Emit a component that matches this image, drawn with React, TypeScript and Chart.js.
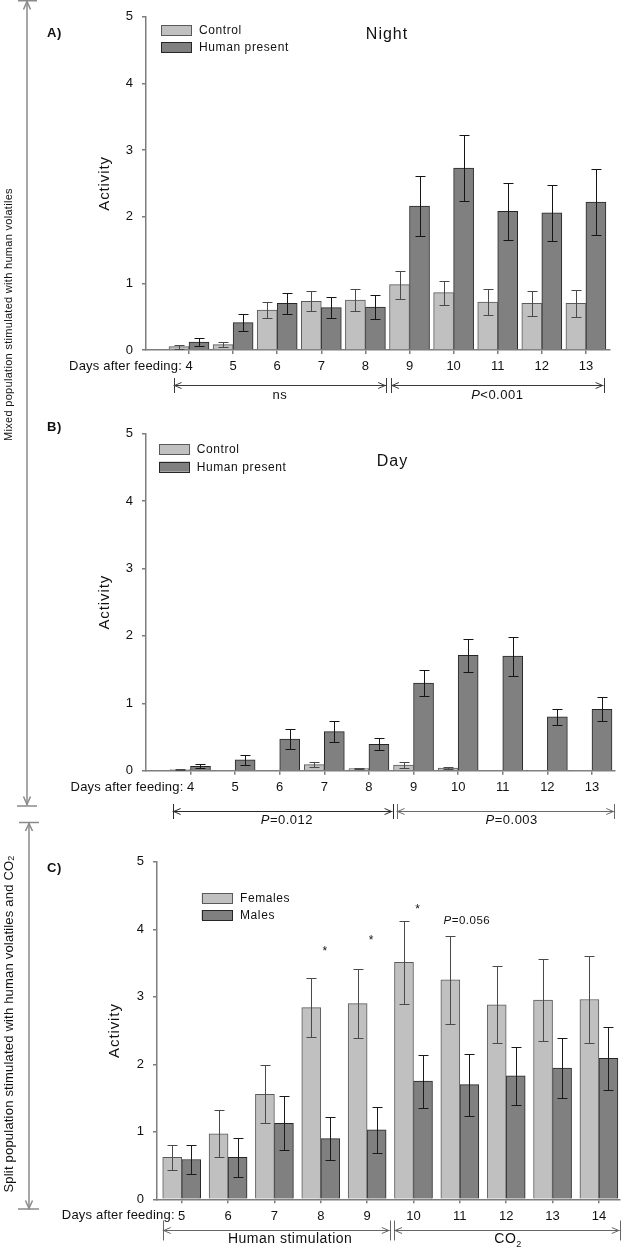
import React, { useEffect, useRef } from 'react';
import { Chart, registerables } from 'chart.js';

Chart.register(...registerables);

const FONT = "'Liberation Sans', Arial, Helvetica, sans-serif";
Chart.defaults.font.family = FONT;

const AXIS = '#7d7d7d';
const LIGHT = '#c0c0c0';
const DARK = '#808080';
const LIGHT_EDGE = '#5a5a5a';
const DARK_EDGE = '#262626';

// ---------- data ----------
const daysAB = [4, 5, 6, 7, 8, 9, 10, 11, 12, 13];
const daysC = [5, 6, 7, 8, 9, 10, 11, 12, 13, 14];
const yTicks = [0, 1, 2, 3, 4, 5];

const legendAB = ['Control', 'Human present'];
const legendC = ['Females', 'Males'];

// A) Night
const nightControl = [0.05, 0.08, 0.6, 0.73, 0.75, 0.98, 0.86, 0.72, 0.7, 0.7];
const nightControlErr = [0.03, 0.04, 0.12, 0.15, 0.17, 0.21, 0.18, 0.19, 0.19, 0.2];
const nightHuman = [0.12, 0.41, 0.7, 0.635, 0.645, 2.16, 2.73, 2.08, 2.06, 2.22];
const nightHumanErr = [0.06, 0.13, 0.16, 0.155, 0.175, 0.45, 0.49, 0.43, 0.42, 0.5];

// B) Day
const dayControl = [0.015, 0.008, 0, 0.09, 0.03, 0.085, 0.04, 0, 0.008, 0.008];
const dayControlErr = [0.006, 0, 0, 0.04, 0.012, 0.04, 0.018, 0, 0, 0];
const dayHuman = [0.065, 0.16, 0.47, 0.58, 0.39, 1.3, 1.71, 1.7, 0.8, 0.91];
const dayHumanErr = [0.03, 0.07, 0.145, 0.16, 0.09, 0.19, 0.245, 0.29, 0.12, 0.18];

// C) Females / Males
const females = [0.62, 0.97, 1.555, 2.84, 2.9, 3.51, 3.25, 2.88, 2.95, 2.96];
const femalesErr = [0.19, 0.35, 0.43, 0.44, 0.515, 0.62, 0.65, 0.57, 0.61, 0.64];
const males = [0.59, 0.62, 1.125, 0.9, 1.03, 1.75, 1.7, 1.83, 1.945, 2.09];
const malesErr = [0.22, 0.29, 0.4, 0.32, 0.34, 0.39, 0.46, 0.43, 0.45, 0.47];

const starDays = [8, 9, 10];
const starY = [3.71, 3.87, 4.33];
const pNoteDay = 11;
const pNoteY = 4.13;
const pNoteText = 'P=0.056';

// ---------- types ----------
type Series = { label: string; values: number[]; errors: number[]; fill: string; edge: string; errColor: string };
type Arrow = { from: number; to: number; label: string; at: number; color: string };
type Panel = {
  top: number; height: number; left: number; right: number; areaTop: number; areaBottom: number;
  xMin: number; xMax: number; days: number[]; barW: number; series: Series[];
  tag: string; tagX: number; tagY: number;
  title?: string; titleX?: number; titleY?: number;
  legendX: number; legendY: number; legendTextX: number; legendGap: number;
  activityX: number;
  arrowY: number; half: number; textDy: number; arrowFont: number; arrows: Arrow[];
  extra?: boolean;
};

const panelA: Panel = {
  top: 0, height: 410, left: 146, right: 610, areaTop: 11.5, areaBottom: 350,
  xMin: 3.025, xMax: 13.546, days: daysAB, barW: 20,
  series: [
    { label: legendAB[0], values: nightControl, errors: nightControlErr, fill: LIGHT, edge: LIGHT_EDGE, errColor: '#4a4a4a' },
    { label: legendAB[1], values: nightHuman, errors: nightHumanErr, fill: DARK, edge: DARK_EDGE, errColor: '#151515' },
  ],
  tag: 'A)', tagX: 47, tagY: 33,
  title: 'Night', titleX: 387, titleY: 35,
  legendX: 161, legendY: 25, legendTextX: 199, legendGap: 17,
  activityX: 105,
  arrowY: 385, half: 7.5, textDy: 10, arrowFont: 13,
  arrows: [
    { from: 3.65, to: 8.47, label: 'ns', at: 6.06, color: '#3a3a3a' },
    { from: 8.58, to: 13.4, label: 'P<0.001', at: 10.99, color: '#3a3a3a' },
  ],
};

const panelB: Panel = {
  top: 415, height: 418, left: 146, right: 615, areaTop: 18.7, areaBottom: 355.7,
  xMin: 3.0025, xMax: 13.516, days: daysAB, barW: 20,
  series: [
    { label: legendAB[0], values: dayControl, errors: dayControlErr, fill: LIGHT, edge: LIGHT_EDGE, errColor: '#4a4a4a' },
    { label: legendAB[1], values: dayHuman, errors: dayHumanErr, fill: DARK, edge: DARK_EDGE, errColor: '#151515' },
  ],
  tag: 'B)', tagX: 47, tagY: 12,
  title: 'Day', titleX: 392.5, titleY: 46.7,
  legendX: 159, legendY: 29.3, legendTextX: 196.7, legendGap: 17.4,
  activityX: 105,
  arrowY: 396, half: 7.5, textDy: 9, arrowFont: 13,
  arrows: [
    { from: 3.6, to: 8.53, label: 'P=0.012', at: 6.16, color: '#2a2a2a' },
    { from: 8.62, to: 13.5, label: 'P=0.003', at: 11.2, color: '#6a6a6a' },
  ],
};

const panelC: Panel = {
  top: 833, height: 415, left: 157, right: 620, areaTop: 28.8, areaBottom: 366.3,
  xMin: 4.467, xMax: 14.455, days: daysC, barW: 19,
  series: [
    { label: legendC[0], values: females, errors: femalesErr, fill: LIGHT, edge: LIGHT_EDGE, errColor: '#4a4a4a' },
    { label: legendC[1], values: males, errors: malesErr, fill: DARK, edge: DARK_EDGE, errColor: '#1a1a1a' },
  ],
  tag: 'C)', tagX: 47, tagY: 35,
  legendX: 201.7, legendY: 60, legendTextX: 240, legendGap: 17,
  activityX: 115,
  arrowY: 397, half: 10, textDy: 9.5, arrowFont: 14,
  arrows: [
    { from: 4.59, to: 9.49, label: 'Human stimulation', at: 7.34, color: '#666666' },
    { from: 9.58, to: 14.45, label: 'CO2', at: 12.04, color: '#666666' },
  ],
  extra: true,
};

// ---------- drawing helpers ----------
function setSpacing(ctx: any, s: string) {
  if ('letterSpacing' in ctx) ctx.letterSpacing = s;
}

function text(ctx: CanvasRenderingContext2D, s: string, x: number, y: number, font: string,
  align: CanvasTextAlign = 'left', color = '#111', spacing = '0px') {
  ctx.save();
  ctx.font = font;
  ctx.fillStyle = color;
  ctx.textAlign = align;
  ctx.textBaseline = 'middle';
  setSpacing(ctx, spacing);
  ctx.fillText(s, x, y);
  ctx.restore();
}

function richLabel(ctx: CanvasRenderingContext2D, s: string, cx: number, y: number, size: number) {
  ctx.save();
  ctx.fillStyle = '#111';
  ctx.textBaseline = 'middle';
  ctx.textAlign = 'left';
  setSpacing(ctx, '0.5px');
  const normal = `${size}px ${FONT}`;
  if (s.startsWith('P') && (s[1] === '<' || s[1] === '=')) {
    const italic = `italic ${size}px ${FONT}`;
    ctx.font = italic;
    const w1 = ctx.measureText('P').width;
    ctx.font = normal;
    const rest = s.slice(1);
    const w2 = ctx.measureText(rest).width;
    const x0 = cx - (w1 + w2) / 2;
    ctx.font = italic;
    ctx.fillText('P', x0, y);
    ctx.font = normal;
    ctx.fillText(rest, x0 + w1, y);
  } else if (s === 'CO2') {
    ctx.font = normal;
    const w1 = ctx.measureText('CO').width;
    const sub = `${Math.round(size * 0.65)}px ${FONT}`;
    ctx.font = sub;
    const w2 = ctx.measureText('2').width;
    const x0 = cx - (w1 + w2) / 2;
    ctx.font = normal;
    ctx.fillText('CO', x0, y);
    ctx.font = sub;
    ctx.fillText('2', x0 + w1, y + size * 0.35);
  } else {
    ctx.font = normal;
    ctx.textAlign = 'center';
    ctx.fillText(s, cx, y);
  }
  ctx.restore();
}

function drawArrow(ctx: CanvasRenderingContext2D, x1: number, x2: number, y: number, half: number, color: string) {
  const yy = Math.round(y) + 0.5;
  ctx.save();
  ctx.strokeStyle = color;
  ctx.lineWidth = 1;
  ctx.beginPath();
  ctx.moveTo(x1, yy); ctx.lineTo(x2, yy);
  ctx.moveTo(x1 + 8, yy - 3); ctx.lineTo(x1 + 1, yy); ctx.lineTo(x1 + 8, yy + 3);
  ctx.moveTo(x2 - 8, yy - 3); ctx.lineTo(x2 - 1, yy); ctx.lineTo(x2 - 8, yy + 3);
  ctx.moveTo(Math.round(x1) + 0.5, yy - half); ctx.lineTo(Math.round(x1) + 0.5, yy + half);
  ctx.moveTo(Math.round(x2) + 0.5, yy - half); ctx.lineTo(Math.round(x2) + 0.5, yy + half);
  ctx.stroke();
  ctx.restore();
}

function makePlugin(p: Panel) {
  return {
    id: 'panelDecor',
    afterDatasetsDraw(chart: any) {
      const ctx: CanvasRenderingContext2D = chart.ctx;
      const ys = chart.scales.y;
      p.series.forEach((s, di) => {
        const meta = chart.getDatasetMeta(di);
        meta.data.forEach((bar: any, i: number) => {
          const v = s.values[i];
          const e = s.errors[i];
          if (!e) return;
          const x = Math.round(bar.x) + 0.5;
          const t = Math.round(ys.getPixelForValue(v + e)) + 0.5;
          const lowV = v - e;
          const b = Math.round(ys.getPixelForValue(Math.max(0, lowV))) + 0.5;
          ctx.save();
          ctx.strokeStyle = s.errColor;
          ctx.lineWidth = 1;
          ctx.beginPath();
          ctx.moveTo(x, t); ctx.lineTo(x, b);
          ctx.moveTo(x - 5, t); ctx.lineTo(x + 5, t);
          if (lowV > 0) { ctx.moveTo(x - 5, b); ctx.lineTo(x + 5, b); }
          ctx.stroke();
          ctx.restore();
        });
      });
    },
    afterDraw(chart: any) {
      const ctx: CanvasRenderingContext2D = chart.ctx;
      const xs = chart.scales.x;
      const ys = chart.scales.y;
      const area = chart.chartArea;

      text(ctx, p.tag, p.tagX, p.tagY, `bold 13px ${FONT}`, 'left', '#111', '0.5px');
      if (p.title) text(ctx, p.title, p.titleX!, p.titleY!, `16px ${FONT}`, 'center', '#111', '1px');
      p.series.forEach((s, i) => {
        const y = p.legendY + i * p.legendGap;
        ctx.save();
        ctx.fillStyle = s.fill;
        ctx.strokeStyle = s.edge;
        ctx.lineWidth = 1;
        ctx.fillRect(p.legendX, y, 31, 10);
        ctx.strokeRect(Math.round(p.legendX) + 0.5, Math.round(y) + 0.5, 30, 10);
        ctx.restore();
        text(ctx, s.label, p.legendTextX, y + 5.5, `12px ${FONT}`, 'left', '#111', '0.6px');
      });
      ctx.save();
      ctx.translate(p.activityX, (area.top + area.bottom) / 2);
      ctx.rotate(-Math.PI / 2);
      text(ctx, 'Activity', 0, 0, `15px ${FONT}`, 'center', '#111', '0.9px');
      ctx.restore();
      text(ctx, 'Days after feeding:', xs.getPixelForValue(p.days[0]) - 7, area.bottom + 16.5,
        `13px ${FONT}`, 'right', '#111', '0.2px');
      p.arrows.forEach((a) => {
        drawArrow(ctx, xs.getPixelForValue(a.from), xs.getPixelForValue(a.to), p.arrowY, p.half, a.color);
        richLabel(ctx, a.label, xs.getPixelForValue(a.at), p.arrowY + p.textDy, p.arrowFont);
      });
      if (p.extra) {
        starDays.forEach((d, i) => {
          text(ctx, '*', xs.getPixelForValue(d) + 4, ys.getPixelForValue(starY[i]) + 3, `12px ${FONT}`, 'center');
        });
        richLabel(ctx, pNoteText, xs.getPixelForValue(pNoteDay) + 7, ys.getPixelForValue(pNoteY), 11.5);
      }
    },
  };
}

function buildConfig(p: Panel): any {
  return {
    type: 'bar',
    data: {
      datasets: p.series.map((s) => ({
        label: s.label,
        data: p.days.map((d, i) => ({ x: d, y: s.values[i] })),
        backgroundColor: s.fill,
        borderColor: s.edge,
        borderWidth: 1,
        barThickness: p.barW,
      })),
    },
    options: {
      animation: false,
      responsive: false,
      maintainAspectRatio: false,
      layout: { padding: { left: 0, top: p.areaTop, right: 630 - p.right, bottom: 0 } },
      plugins: { legend: { display: false }, tooltip: { enabled: false }, title: { display: false } },
      scales: {
        x: {
          type: 'linear',
          min: p.xMin,
          max: p.xMax,
          offset: false,
          afterBuildTicks: (s: any) => { s.ticks = p.days.map((v) => ({ value: v })); },
          afterFit: (s: any) => { s.height = p.height - p.areaBottom; },
          ticks: {
            autoSkip: false, maxRotation: 0, minRotation: 0, padding: 5, color: '#111',
            font: { family: FONT, size: 13 },
            callback: (v: any) => String(v),
          },
          grid: { offset: false, drawOnChartArea: false, drawTicks: true, tickLength: 4, color: AXIS, lineWidth: 1.5 },
          border: { display: true, color: AXIS, width: 1.5 },
        },
        y: {
          type: 'linear',
          min: 0,
          max: 5,
          afterBuildTicks: (s: any) => { s.ticks = yTicks.map((v) => ({ value: v })); },
          afterFit: (s: any) => { s.width = p.left; },
          ticks: { padding: 9, color: '#111', font: { family: FONT, size: 13 } },
          grid: { drawOnChartArea: false, drawTicks: true, tickLength: 4, color: AXIS, lineWidth: 1.5 },
          border: { display: true, color: AXIS, width: 1.5 },
        },
      },
    },
    plugins: [makePlugin(p)],
  };
}

function PanelChart({ p }: { p: Panel }) {
  const ref = useRef<HTMLCanvasElement>(null);
  useEffect(() => {
    const chart = new Chart(ref.current as HTMLCanvasElement, buildConfig(p));
    return () => chart.destroy();
  }, [p]);
  return (
    <canvas
      ref={ref}
      width={630}
      height={p.height}
      style={{ position: 'absolute', left: 0, top: p.top, width: 630, height: p.height }}
    />
  );
}

const bracketTexts = [
  'Mixed population stimulated with human volatiles',
  'Split population stimulated with human volatiles and CO',
];

function Brackets() {
  const stroke = '#8a8a8a';
  return (
    <svg width={630} height={1248} style={{ position: 'absolute', left: 0, top: 0 }}>
      <g stroke={stroke} strokeWidth={1.5} fill="none">
        <line x1={27} y1={1} x2={27} y2={805} />
        <line x1={18} y1={0.75} x2={37} y2={0.75} />
        <polyline points="23.5,9.5 27,1.5 30.5,9.5" />
        <polyline points="23.5,796.5 27,804.5 30.5,796.5" />
        <line x1={17} y1={806} x2={37} y2={806} />
        <line x1={29} y1={823} x2={29} y2={1209} />
        <line x1={19} y1={822.5} x2={39} y2={822.5} />
        <polyline points="25.5,831 29,823.5 32.5,831" />
        <polyline points="25.5,1200.5 29,1208.5 32.5,1200.5" />
        <line x1={18} y1={1209} x2={39} y2={1209} />
      </g>
      <text
        transform="translate(8,314.5) rotate(-90)"
        textAnchor="middle"
        dominantBaseline="central"
        fontFamily={FONT}
        fontSize={11}
        letterSpacing={0.3}
        fill="#111"
      >
        {bracketTexts[0]}
      </text>
      <text
        transform="translate(8,1024) rotate(-90)"
        textAnchor="middle"
        dominantBaseline="central"
        fontFamily={FONT}
        fontSize={13}
        letterSpacing={0.2}
        fill="#111"
      >
        {bracketTexts[1]}
        <tspan fontSize={9} dy={3}>2</tspan>
      </text>
    </svg>
  );
}

export default function App() {
  return (
    <div style={{ position: 'absolute', left: 0, top: 0, width: 630, height: 1248, background: '#fff', overflow: 'hidden' }}>
      <PanelChart p={panelA} />
      <PanelChart p={panelB} />
      <PanelChart p={panelC} />
      <Brackets />
    </div>
  );
}
